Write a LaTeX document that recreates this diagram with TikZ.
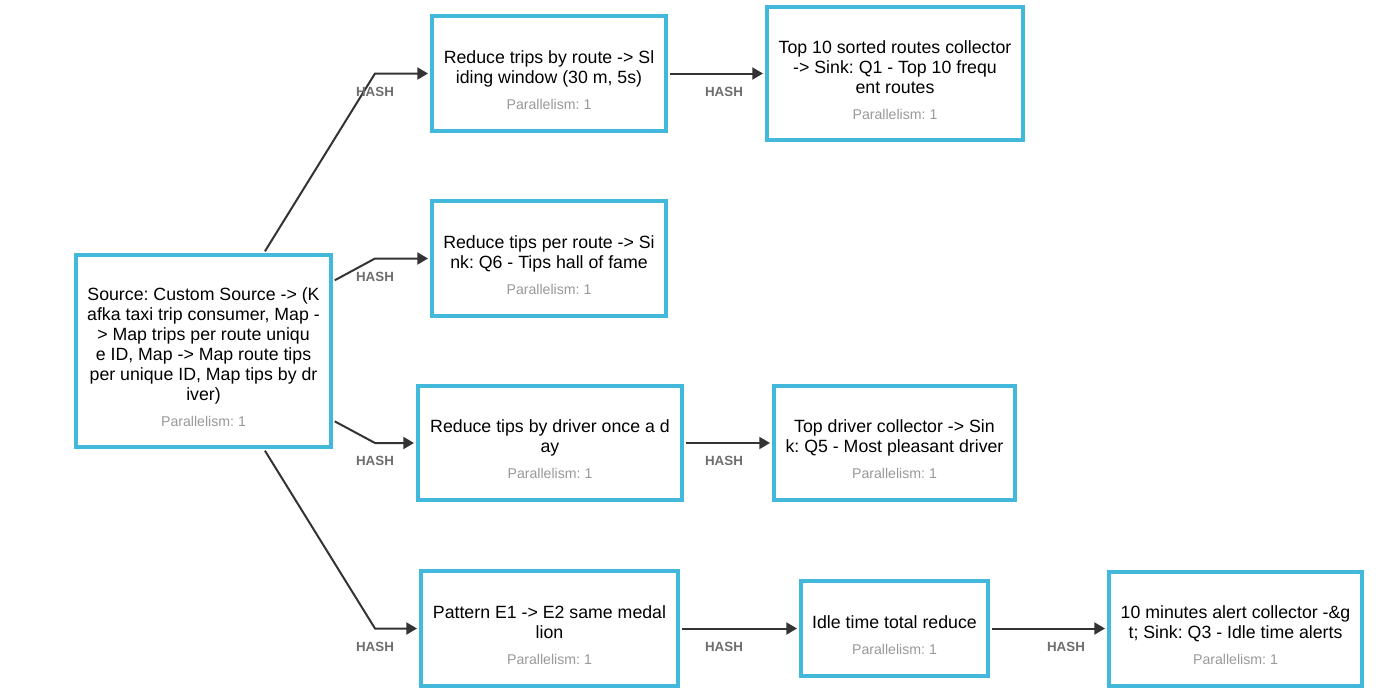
\documentclass[tikz,border=0pt]{standalone}
\usepackage{fontspec}
\setmainfont{Liberation Sans}
\usetikzlibrary{arrows.meta}
\definecolor{flinkblue}{RGB}{66,184,218}
\definecolor{edgegray}{RGB}{51,51,51}
\definecolor{hashgray}{RGB}{110,110,110}
\definecolor{pargray}{RGB}{153,153,153}
\newcommand{\parlabel}{\\[4.5pt]{\color{pargray}\fontsize{10.6}{13}\selectfont Parallelism: 1}}
\frenchspacing

\tikzset{
  op/.style={draw=flinkblue, line width=3pt, fill=white, inner sep=0pt},
  optext/.style={align=center, inner sep=0pt, font=\fontsize{13.3}{15}\selectfont},
  edge/.style={draw=edgegray, line width=1.5pt, -{Triangle[length=8pt,width=9pt]},
    shorten >=1.5pt, shorten <=1.5pt},
  hash/.style={text=hashgray, font=\fontsize{10}{12}\selectfont\bfseries}
}

\begin{document}
\begin{tikzpicture}[x=0.75pt, y=-0.75pt]
    \useasboundingbox (0,0) rectangle (1393,697); % page size
    % operator boxes
    \node[op, minimum width=191.25pt, minimum height=144pt] (src) at (203.5,351) {};
    \node[op, minimum width=175.5pt, minimum height=86.25pt] (trips) at (549,73.5) {};
    \node[op, minimum width=192pt, minimum height=99.75pt] (top10) at (895,73.5) {};
    \node[op, minimum width=175.5pt, minimum height=86.25pt] (tips) at (549,258.5) {};
    \node[op, minimum width=198pt, minimum height=85.5pt] (driver) at (550,443) {};
    \node[op, minimum width=180.75pt, minimum height=85.5pt] (topdriver) at (894.5,443) {};
    \node[op, minimum width=192.75pt, minimum height=86.25pt] (pattern) at (549.5,628.5) {};
    \node[op, minimum width=140.25pt, minimum height=71.25pt] (idle) at (894.5,628.5) {};
    \node[op, minimum width=189.75pt, minimum height=85.5pt] (alert) at (1235.5,628.5) {};
    % operator names
    \node[optext] (src-t) at ([yshift=-4.75pt]src.center)
        {Source: Custom Source -> (K\\afka taxi trip consumer, Map -\\> Map trips per route uniqu\\e ID, Map -> Map route tips\\per unique ID, Map tips by dr\\iver)\parlabel};
    \node[optext] (trips-t) at ([yshift=-4.75pt]trips.center)
        {Reduce trips by route -> Sl\\iding window (30 m, 5s)\parlabel};
    \node[optext] (top10-t) at ([yshift=-4.75pt]top10.center)
        {Top 10 sorted routes collector\\-> Sink: Q1 - Top 10 frequ\\ent routes\parlabel};
    \node[optext] (tips-t) at ([yshift=-4.75pt]tips.center)
        {Reduce tips per route -> Si\\nk: Q6 - Tips hall of fame\parlabel};
    \node[optext] (driver-t) at ([yshift=-4.75pt]driver.center)
        {Reduce tips by driver once a d\\ay\parlabel};
    \node[optext] (topdriver-t) at ([yshift=-4.75pt]topdriver.center)
        {Top driver collector -> Sin\\k: Q5 - Most pleasant driver\parlabel};
    \node[optext] (pattern-t) at ([yshift=-4.75pt]pattern.center)
        {Pattern E1 -> E2 same medal\\lion\parlabel};
    \node[optext] (idle-t) at ([yshift=-4.75pt]idle.center)
        {Idle time total reduce\parlabel};
    \node[optext] (alert-t) at ([yshift=-4.75pt]alert.center)
        {10 minutes alert collector -\&g\\t; Sink: Q3 - Idle time alerts\parlabel};
    % bends of the source edges
    \coordinate (b1) at (375,73.5);
    \coordinate (b2) at (375,258.5);
    \coordinate (b3) at (375,443);
    \coordinate (b4) at (375,628.5);
    \draw[edge] (src) -- (b1) -- (trips);
    \draw[edge] (src) -- (b2) -- (tips);
    \draw[edge] (src) -- (b3) -- (driver);
    \draw[edge] (src) -- (b4) -- (pattern);
    \draw[edge] (trips) -- (top10);
    \draw[edge] (driver) -- (topdriver);
    \draw[edge] (pattern) -- (idle);
    \draw[edge] (idle) -- (alert);
    % edge labels
    \node[hash] (h1) at (375,91.5) {HASH};
    \node[hash] (h2) at (375,276.5) {HASH};
    \node[hash] (h3) at (375,461) {HASH};
    \node[hash] (h4) at (375,646.5) {HASH};
    \node[hash] (h5) at (724,91.5) {HASH};
    \node[hash] (h6) at (724,461) {HASH};
    \node[hash] (h7) at (724,646.5) {HASH};
    \node[hash] (h8) at (1066,646.5) {HASH};
\end{tikzpicture}
\end{document}
